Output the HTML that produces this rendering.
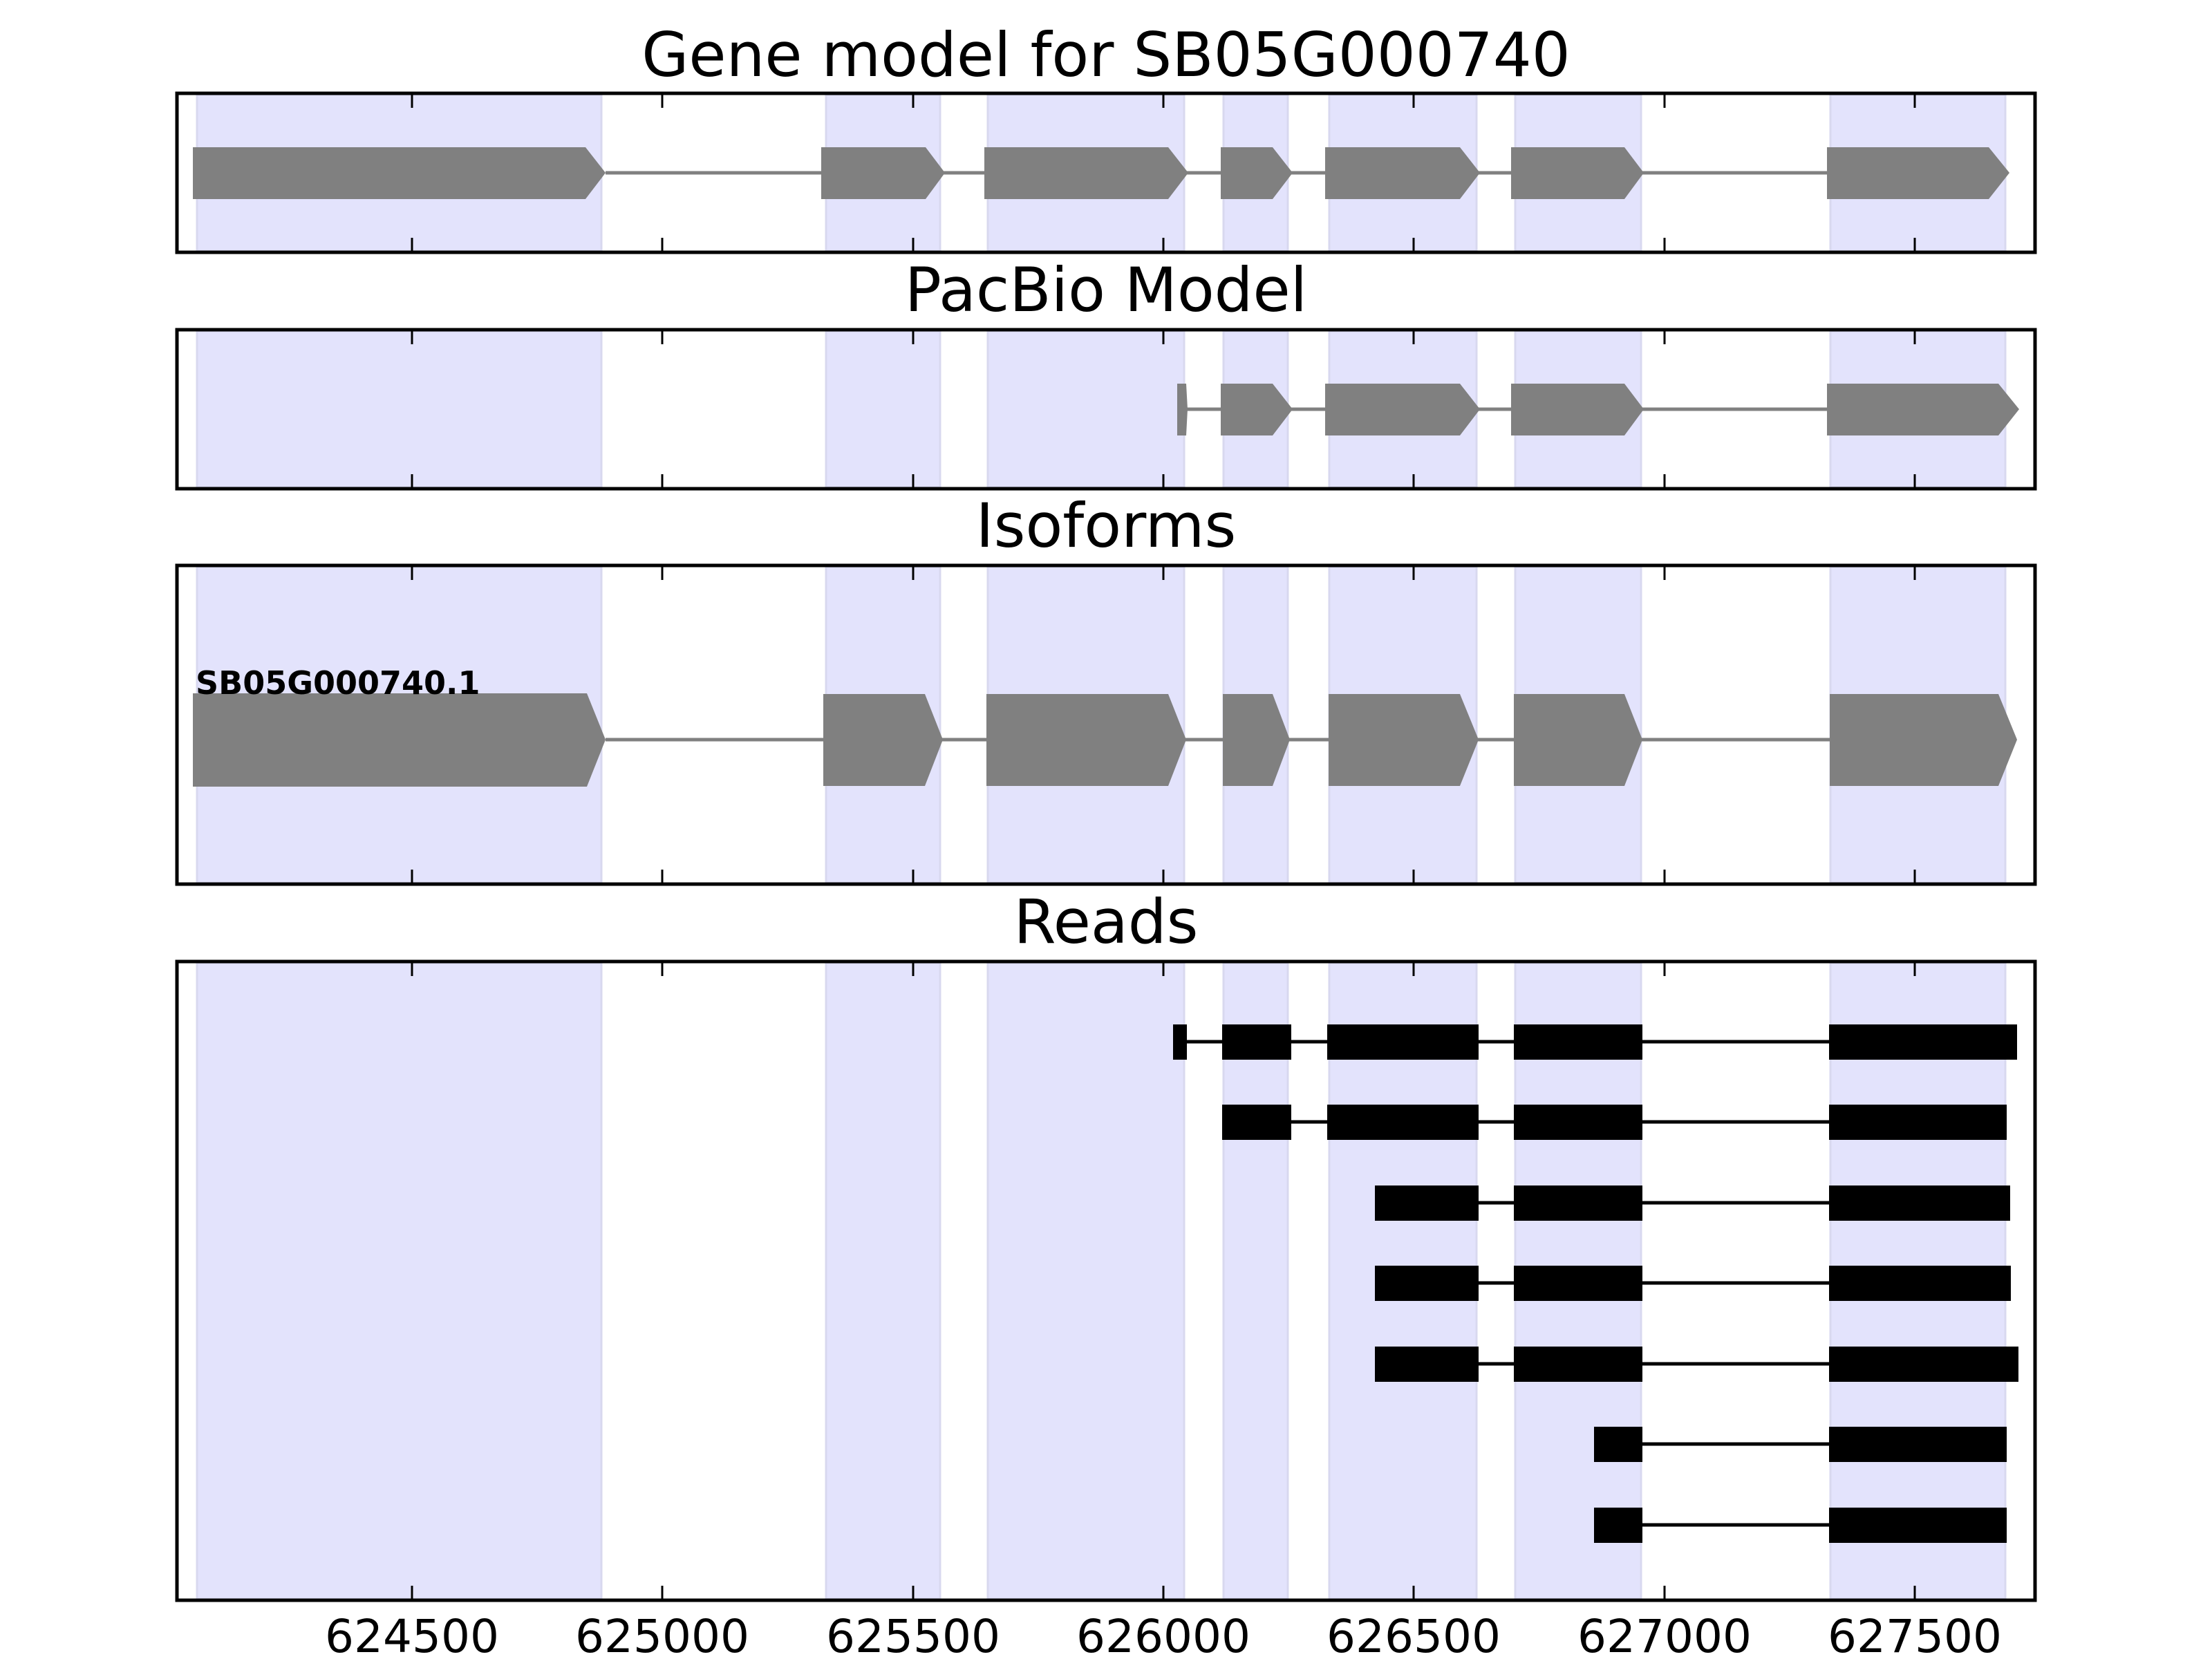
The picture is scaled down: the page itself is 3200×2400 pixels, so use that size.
<!DOCTYPE html>
<html><head><meta charset="utf-8"><style>
html,body{margin:0;padding:0;background:#fff;}
svg{display:block;}
text{font-family:"DejaVu Sans","Liberation Sans",sans-serif;}
</style></head><body>
<svg width="3200" height="2400" viewBox="0 0 3200 2400" xmlns="http://www.w3.org/2000/svg">
<rect width="3200" height="2400" fill="#fff"/>

<!-- Titles -->
<text x="1600" y="110" font-size="88" text-anchor="middle">Gene model for SB05G000740</text>
<text x="1600" y="450" font-size="88" text-anchor="middle">PacBio Model</text>
<text x="1600" y="791" font-size="88" text-anchor="middle">Isoforms</text>
<text x="1600" y="1364" font-size="88" text-anchor="middle">Reads</text>

<!-- Panel 1 -->
<g>
<g fill="#e3e3fc" stroke="#d8d8ef" stroke-width="3">
<rect x="285" y="137" width="585" height="226"/><rect x="1195" y="137" width="165" height="226"/><rect x="1429" y="137" width="284" height="226"/><rect x="1770" y="137" width="93" height="226"/><rect x="1923" y="137" width="213" height="226"/><rect x="2192" y="137" width="182" height="226"/><rect x="2648" y="137" width="253" height="226"/>
</g>
<line x1="876" y1="250" x2="2643" y2="250" stroke="#808080" stroke-width="5"/>
<g fill="#808080">
<polygon points="279,213 847,213 876,250 847,288 279,288"/>
<polygon points="1188,213 1339,213 1367,250 1339,288 1188,288"/>
<polygon points="1424,213 1690,213 1719,250 1690,288 1424,288"/>
<polygon points="1766,213 1841,213 1870,250 1841,288 1766,288"/>
<polygon points="1917,213 2112,213 2141,250 2112,288 1917,288"/>
<polygon points="2186,213 2350,213 2378,250 2350,288 2186,288"/>
<polygon points="2643,213 2877,213 2907,250 2877,288 2643,288"/>
</g>
</g>

<!-- Panel 2 -->
<g>
<g fill="#e3e3fc" stroke="#d8d8ef" stroke-width="3">
<rect x="285" y="479" width="585" height="226"/><rect x="1195" y="479" width="165" height="226"/><rect x="1429" y="479" width="284" height="226"/><rect x="1770" y="479" width="93" height="226"/><rect x="1923" y="479" width="213" height="226"/><rect x="2192" y="479" width="182" height="226"/><rect x="2648" y="479" width="253" height="226"/>
</g>
<line x1="1710" y1="592" x2="2643" y2="592" stroke="#808080" stroke-width="5"/>
<g fill="#808080">
<polygon points="1703,555 1716,555 1718,592 1716,630 1703,630"/>
<polygon points="1766,555 1841,555 1870,592 1841,630 1766,630"/>
<polygon points="1917,555 2112,555 2141,592 2112,630 1917,630"/>
<polygon points="2186,555 2350,555 2378,592 2350,630 2186,630"/>
<polygon points="2643,555 2891,555 2921,592 2891,630 2643,630"/>
</g>
</g>

<!-- Panel 3 -->
<g>
<g fill="#e3e3fc" stroke="#d8d8ef" stroke-width="3">
<rect x="285" y="820" width="585" height="457"/><rect x="1195" y="820" width="165" height="457"/><rect x="1429" y="820" width="284" height="457"/><rect x="1770" y="820" width="93" height="457"/><rect x="1923" y="820" width="213" height="457"/><rect x="2192" y="820" width="182" height="457"/><rect x="2648" y="820" width="253" height="457"/>
</g>
<line x1="876" y1="1070" x2="2647" y2="1070" stroke="#808080" stroke-width="5"/>
<g fill="#808080">
<polygon points="279,1003 849,1003 876,1070 849,1138 279,1138"/>
<polygon points="1191,1004 1338,1004 1364,1070 1338,1137 1191,1137"/>
<polygon points="1427,1004 1690,1004 1716,1070 1690,1137 1427,1137"/>
<polygon points="1769,1004 1841,1004 1866,1070 1841,1137 1769,1137"/>
<polygon points="1922,1004 2112,1004 2139,1070 2112,1137 1922,1137"/>
<polygon points="2190,1004 2350,1004 2376,1070 2350,1137 2190,1137"/>
<polygon points="2647,1004 2891,1004 2918,1070 2891,1137 2647,1137"/>
</g>
<text x="283" y="1004" font-size="46" font-weight="bold">SB05G000740.1</text>
</g>

<!-- Panel 4 -->
<g>
<g fill="#e3e3fc" stroke="#d8d8ef" stroke-width="3">
<rect x="285" y="1393" width="585" height="920"/><rect x="1195" y="1393" width="165" height="920"/><rect x="1429" y="1393" width="284" height="920"/><rect x="1770" y="1393" width="93" height="920"/><rect x="1923" y="1393" width="213" height="920"/><rect x="2192" y="1393" width="182" height="920"/><rect x="2648" y="1393" width="253" height="920"/>
</g>
<g stroke="#000" stroke-width="5">
<line x1="1700" y1="1507" x2="2918" y2="1507"/>
<line x1="1768" y1="1623" x2="2903" y2="1623"/>
<line x1="1989" y1="1740" x2="2908" y2="1740"/>
<line x1="1989" y1="1856" x2="2909" y2="1856"/>
<line x1="1989" y1="1973" x2="2920" y2="1973"/>
<line x1="2306" y1="2089" x2="2903" y2="2089"/>
<line x1="2306" y1="2206" x2="2903" y2="2206"/>
</g>
<g fill="#000">
<rect x="1697" y="1482" width="20" height="51"/><rect x="1768" y="1482" width="100" height="51"/><rect x="1920" y="1482" width="219" height="51"/><rect x="2190" y="1482" width="186" height="51"/><rect x="2646" y="1482" width="272" height="51"/>
<rect x="1768" y="1598" width="100" height="51"/><rect x="1920" y="1598" width="219" height="51"/><rect x="2190" y="1598" width="186" height="51"/><rect x="2646" y="1598" width="257" height="51"/>
<rect x="1989" y="1715" width="150" height="51"/><rect x="2190" y="1715" width="186" height="51"/><rect x="2646" y="1715" width="262" height="51"/>
<rect x="1989" y="1831" width="150" height="51"/><rect x="2190" y="1831" width="186" height="51"/><rect x="2646" y="1831" width="263" height="51"/>
<rect x="1989" y="1948" width="150" height="51"/><rect x="2190" y="1948" width="186" height="51"/><rect x="2646" y="1948" width="274" height="51"/>
<rect x="2306" y="2064" width="70" height="51"/><rect x="2646" y="2064" width="257" height="51"/>
<rect x="2306" y="2181" width="70" height="51"/><rect x="2646" y="2181" width="257" height="51"/>
</g>
</g>

<!-- Ticks -->
<g stroke="#000" stroke-width="3">
<path d="M596,137v19M958,137v19M1321,137v19M1683,137v19M2045,137v19M2408,137v19M2770,137v19 M596,363v-19M958,363v-19M1321,363v-19M1683,363v-19M2045,363v-19M2408,363v-19M2770,363v-19"/>
<path d="M596,479v19M958,479v19M1321,479v19M1683,479v19M2045,479v19M2408,479v19M2770,479v19 M596,705v-19M958,705v-19M1321,705v-19M1683,705v-19M2045,705v-19M2408,705v-19M2770,705v-19"/>
<path d="M596,820v19M958,820v19M1321,820v19M1683,820v19M2045,820v19M2408,820v19M2770,820v19 M596,1277v-19M958,1277v-19M1321,1277v-19M1683,1277v-19M2045,1277v-19M2408,1277v-19M2770,1277v-19"/>
<path d="M596,1393v19M958,1393v19M1321,1393v19M1683,1393v19M2045,1393v19M2408,1393v19M2770,1393v19 M596,2313v-19M958,2313v-19M1321,2313v-19M1683,2313v-19M2045,2313v-19M2408,2313v-19M2770,2313v-19"/>
</g>

<!-- Frames -->
<g fill="none" stroke="#000" stroke-width="5">
<rect x="256" y="135" width="2688" height="230"/>
<rect x="256" y="477" width="2688" height="230"/>
<rect x="256" y="818" width="2688" height="461"/>
<rect x="256" y="1391" width="2688" height="924"/>
</g>

<!-- Tick labels -->
<g font-size="66" text-anchor="middle" fill="#000">
<text x="596" y="2390">624500</text>
<text x="958" y="2390">625000</text>
<text x="1321" y="2390">625500</text>
<text x="1683" y="2390">626000</text>
<text x="2045" y="2390">626500</text>
<text x="2408" y="2390">627000</text>
<text x="2770" y="2390">627500</text>
</g>
</svg>
</body></html>
